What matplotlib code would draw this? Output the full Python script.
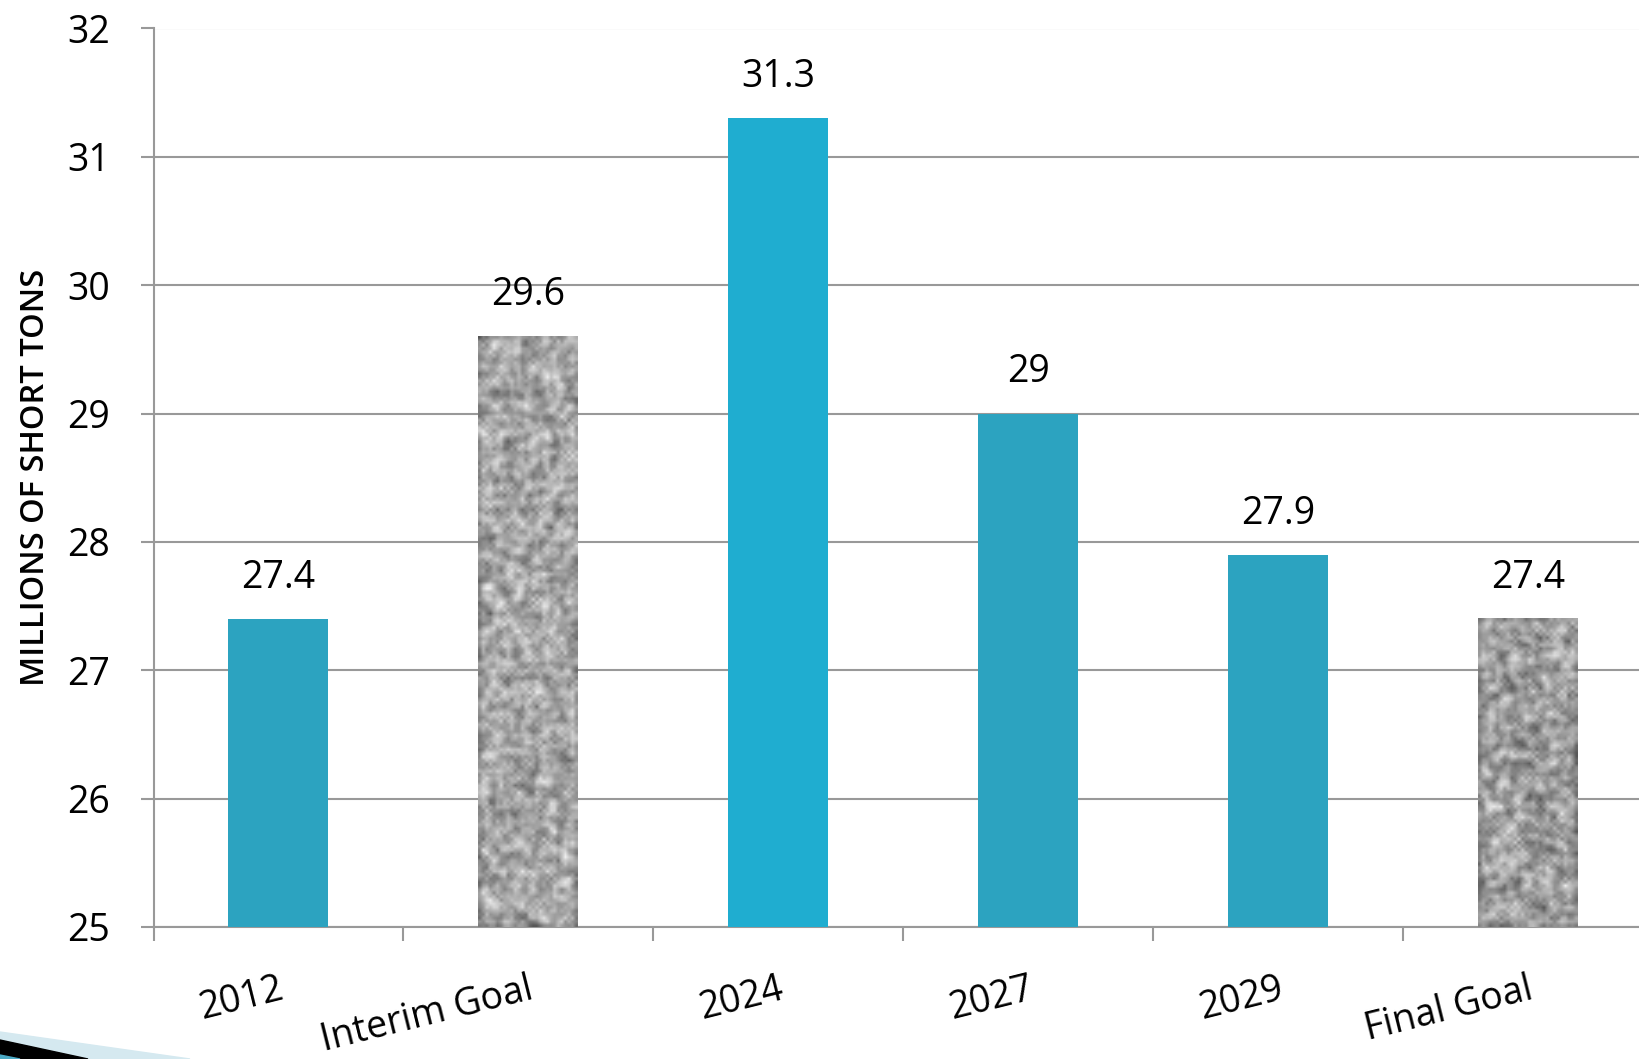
import numpy as np
import matplotlib
matplotlib.use("Agg")
import matplotlib.pyplot as plt
from matplotlib.patches import Polygon

plt.rcParams['font.family'] = ['Open Sans', 'DejaVu Sans']

categories = ['2012', 'Interim Goal', '2024', '2027', '2029', 'Final Goal']
values = [27.4, 29.6, 31.3, 29.0, 27.9, 27.4]
value_labels = ['27.4', '29.6', '31.3', '29', '27.9', '27.4']
is_goal = [False, True, False, False, False, True]
bar_colors = ['#2ca3c0', None, '#1fadd0', '#2ca3c0', '#2ca3c0', None]
yticks = [25, 26, 27, 28, 29, 30, 31, 32]

W, H = 1639, 1059
fig = plt.figure(figsize=(W / 100, H / 100), dpi=100)
left, right, top, bottom = 153.5, 1653, 28.5, 927
ax = fig.add_axes([left / W, 1 - bottom / H, (right - left) / W, (bottom - top) / H])

x = np.arange(len(categories))
bars = ax.bar(x, [v - 25 for v in values], bottom=25, width=0.4, zorder=3,
              color=[c if c else 'none' for c in bar_colors], linewidth=0)


def speckle(rows, cols, seed):
    # deterministic hash noise, lightly smoothed, for the stone-like fill
    i, j = np.mgrid[0:rows, 0:cols]
    n = np.sin(i * 12.9898 + j * 78.233 + seed * 3.17) * 43758.5453
    n = n - np.floor(n)
    s = n.copy()
    s[1:, :] += n[:-1, :]
    s[:, 1:] += n[:, :-1]
    s[:-1, :] += n[1:, :]
    s[:, :-1] += n[:, 1:]
    s = s / 5.0
    s = (s - s.min()) / (s.max() - s.min())
    return s


for k, (b, g) in enumerate(zip(bars, is_goal)):
    if not g:
        continue
    x0, y0 = b.get_x(), b.get_y()
    bw, bh = b.get_width(), b.get_height()
    tex = speckle(int(bh * 36), 28, k)
    ax.imshow(tex, cmap='gray', vmin=-0.55, vmax=1.1, extent=(x0, x0 + bw, y0, y0 + bh),
              aspect='auto', interpolation='bilinear', zorder=3)

for xi, v, lab in zip(x, values, value_labels):
    ax.annotate(lab, (xi, v), xytext=(0, 16), textcoords='offset points',
                ha='center', va='bottom', fontsize=27, color='black')

ax.set_xlim(-0.5, len(categories) - 0.5)
ax.set_ylim(25, 32)
ax.set_yticks(yticks)
ax.set_yticklabels([str(t) for t in yticks])
ax.yaxis.grid(True, color='#999999', linewidth=1.5, zorder=0)
ax.set_axisbelow(True)

ax.set_xticks(x)
ax.set_xticklabels(categories, rotation=14, ha='right', va='top', rotation_mode='anchor')
ax.set_xticks(np.arange(len(categories) + 1) - 0.5, minor=True)
ax.tick_params(axis='x', which='major', length=0, pad=31, labelsize=27)
ax.tick_params(axis='x', which='minor', length=10, width=1.5, color='#999999', direction='out')
ax.tick_params(axis='y', length=9.5, width=1.5, color='#999999', direction='out', pad=22, labelsize=27)

for s in ['top', 'right']:
    ax.spines[s].set_visible(False)
ax.spines['left'].set_color('#999999')
ax.spines['left'].set_linewidth(1.5)
ax.spines['bottom'].set_color('#999999')
ax.spines['bottom'].set_linewidth(1.5)

ax.set_ylabel('MILLIONS OF SHORT TONS', fontsize=23.5, fontweight='semibold', labelpad=11)

# decorative swoosh in the bottom-left corner
fig.add_artist(Polygon([(0, 1 - 1032 / H), (190 / W, 0), (0, 0)], closed=True,
                       transform=fig.transFigure, color='#d5e9f0', zorder=0))
fig.add_artist(Polygon([(0, 1 - 1040 / H), (88 / W, 0), (0, 0)], closed=True,
                       transform=fig.transFigure, color='black', zorder=1))
fig.add_artist(Polygon([(0, 1 - 1055 / H), (20 / W, 0), (0, 0)], closed=True,
                       transform=fig.transFigure, color='#4ba9c4', zorder=2))

fig.savefig('out.png', dpi=100)
